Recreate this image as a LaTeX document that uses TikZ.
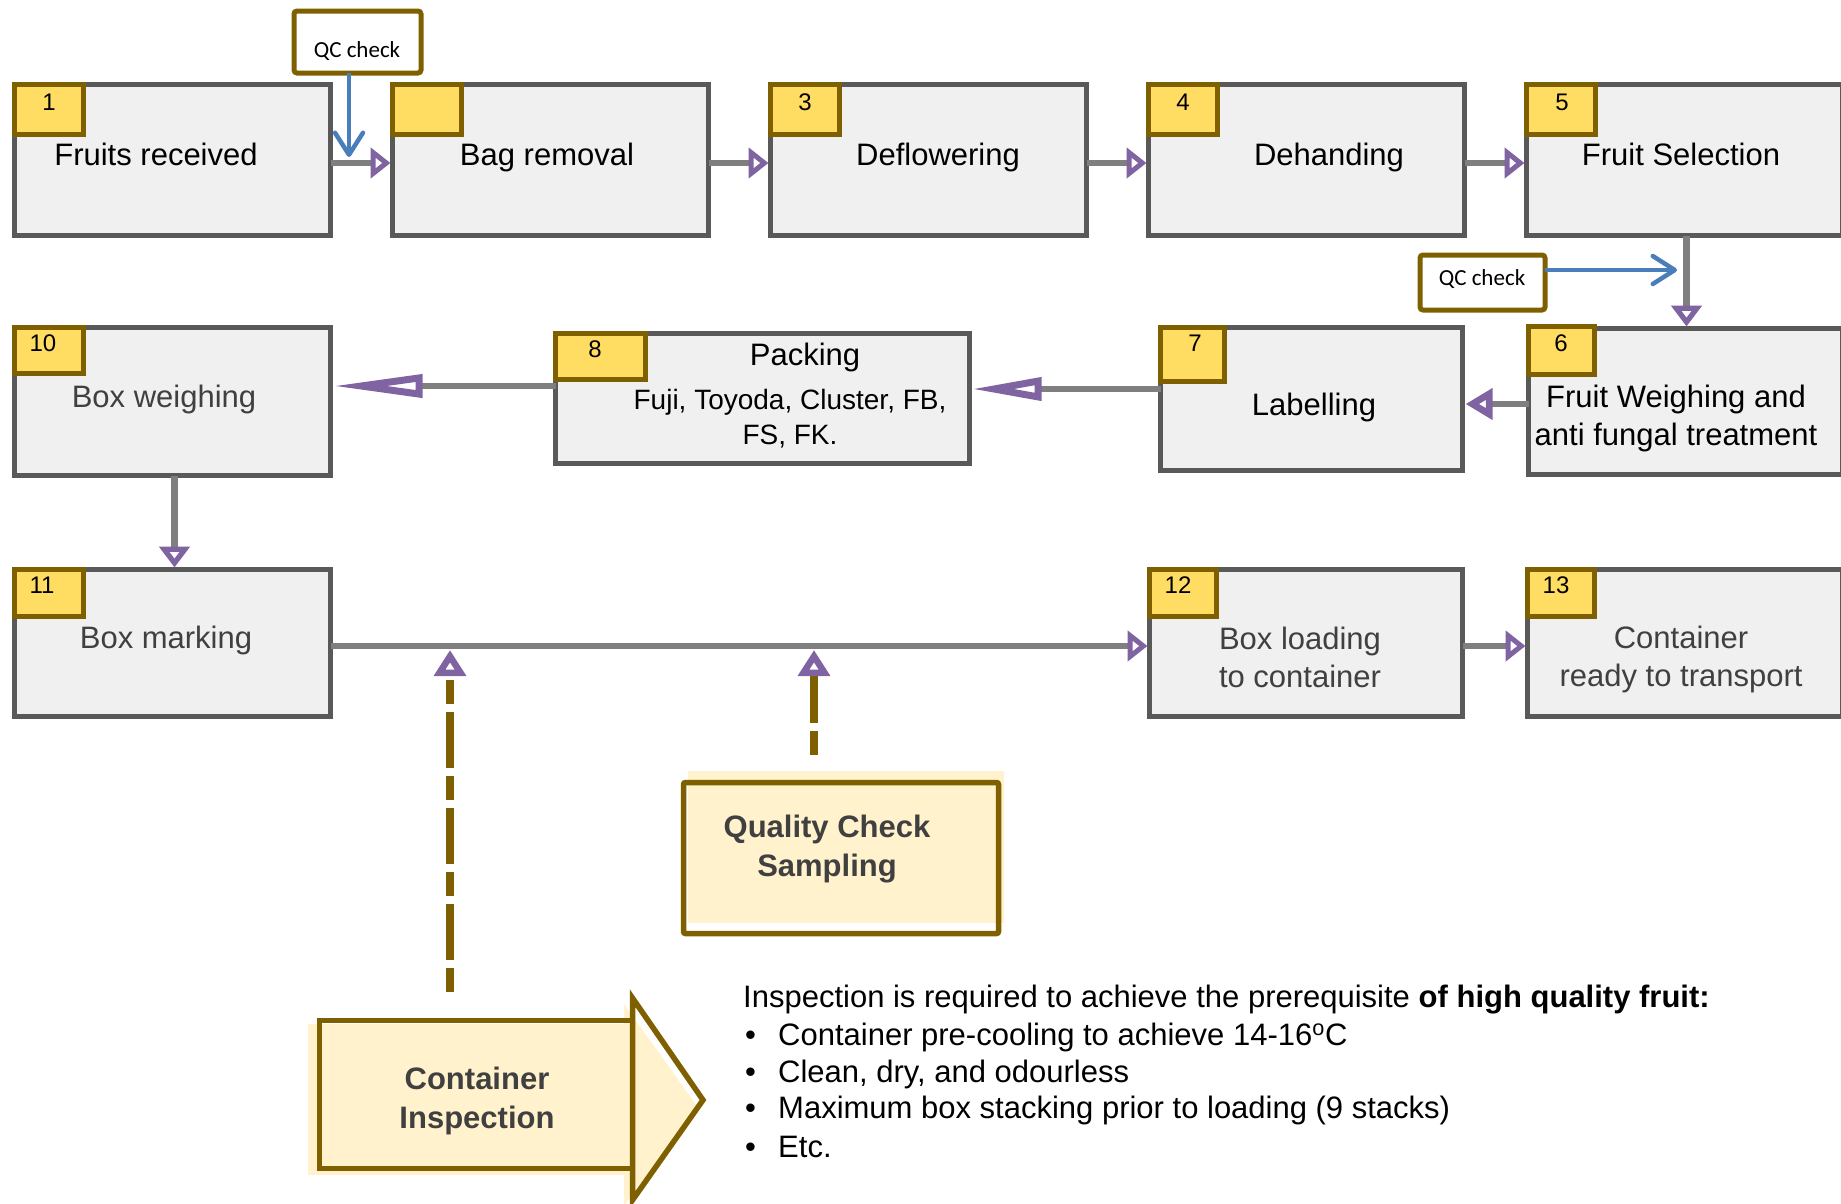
\documentclass[tikz,border=0pt]{standalone}
\usepackage{fontspec}
\setmainfont{Liberation Sans}
\newfontfamily\qcfont{Carlito}
\usetikzlibrary{arrows.meta}
\definecolor{boxfill}{HTML}{F0F0F0}
\definecolor{boxdraw}{HTML}{595959}
\definecolor{tagfill}{HTML}{FFDC62}
\definecolor{tagdraw}{HTML}{7F6000}
\definecolor{conngray}{HTML}{7F7F7F}
\definecolor{arrowpurple}{HTML}{8064A2}
\definecolor{qcblue}{HTML}{4A7EBB}
\definecolor{lightyellow}{HTML}{FFF2CC}
\definecolor{darktext}{HTML}{404040}
\tikzset{
  pbox/.style={draw=boxdraw, fill=boxfill, line width=5pt, anchor=north west, inner sep=0pt, outer sep=0pt},
  tagbox/.style={draw=tagdraw, fill=tagfill, line width=5pt, anchor=north west, inner sep=0pt, outer sep=0pt},
  qcbox/.style={draw=tagdraw, fill=white, line width=5pt, rounded corners=3pt, anchor=north west, inner sep=0pt, outer sep=0pt},
  bigbox/.style={draw=tagdraw, line width=5.5pt, anchor=north west, inner sep=0pt, outer sep=0pt},
  numtxt/.style={font=\fontsize{24}{28}\selectfont, inner sep=0pt, anchor=base},
  boxtxt/.style={font=\fontsize{31}{38}\selectfont, inner sep=0pt, align=center},
  linetxt/.style={boxtxt, anchor=base},
  greytxt/.style={boxtxt, text=darktext},
  greyline/.style={linetxt, text=darktext},
  subtxt/.style={font=\fontsize{28}{35}\selectfont, inner sep=0pt, align=center},
  qctxt/.style={font=\qcfont\fontsize{23}{27}\selectfont, inner sep=0pt, anchor=base},
  boldtxt/.style={font=\bfseries\fontsize{31}{39}\selectfont, text=darktext, inner sep=0pt, align=center},
  bodytxt/.style={font=\fontsize{31}{37}\selectfont, inner sep=0pt, anchor=base west},
  conn/.style={draw=conngray, line width=6.5pt},
  arrsmall/.style={-{Triangle[open,color=arrowpurple,length=20pt,width=30pt,line width=7.5pt]}},
  arrvert/.style={-{Triangle[open,color=arrowpurple,length=21pt,width=30pt,line width=6.5pt]}},
  arrmid/.style={-{Triangle[open,color=arrowpurple,length=27pt,width=30pt,line width=7pt]}},
  arrlongA/.style={-{Triangle[open,color=arrowpurple,length=70pt,width=22pt,line width=7pt]}},
  arrlongB/.style={-{Triangle[open,color=arrowpurple,length=90pt,width=22pt,line width=7pt]}},
  arrdash/.style={-{Triangle[open,color=arrowpurple,length=26pt,width=31pt,line width=6.5pt]}},
  qcarrow/.style={draw=qcblue, line width=4.5pt, -{Straight Barb[length=22pt,width=28pt,line width=4.5pt,round]}},
  dashconn/.style={draw=tagdraw, line width=8pt, dash pattern=on 24pt off 8pt on 56pt off 8pt}
}
\begin{document}
\begin{tikzpicture}[x=1pt,y=-1pt]
\useasboundingbox (0,0) rectangle (1841,1203);
\clip (0,0) rectangle (1841,1203);

% ---- process boxes ----
\node[pbox, minimum width=316pt, minimum height=151pt] (b1) at (14.5,84.5) {};
\node[pbox, minimum width=316pt, minimum height=151pt] (b2) at (392.5,84.5) {};
\node[pbox, minimum width=316pt, minimum height=151pt] (b3) at (770.5,84.5) {};
\node[pbox, minimum width=316pt, minimum height=151pt] (b4) at (1148.5,84.5) {};
\node[pbox, minimum width=316pt, minimum height=151pt] (b5) at (1526.5,84.5) {};
\node[pbox, minimum width=316pt, minimum height=148pt] (b10) at (14.5,327.5) {};
\node[pbox, minimum width=414pt, minimum height=130pt] (b8) at (555.5,333.5) {};
\node[pbox, minimum width=302pt, minimum height=143pt] (b7) at (1160.5,327.5) {};
\node[pbox, minimum width=314pt, minimum height=146pt] (b6) at (1528.5,328.5) {};
\node[pbox, minimum width=316pt, minimum height=147pt] (b11) at (14.5,569.5) {};
\node[pbox, minimum width=313pt, minimum height=147pt] (b12) at (1149.5,569.5) {};
\node[pbox, minimum width=315pt, minimum height=147pt] (b13) at (1527.5,569.5) {};

% ---- number tags ----
\node[tagbox, minimum width=69pt, minimum height=50pt] (g1) at (14.5,84.5) {};
\node[tagbox, minimum width=69pt, minimum height=50pt] (g2) at (392.5,84.5) {};
\node[tagbox, minimum width=69pt, minimum height=50pt] (g3) at (770.5,84.5) {};
\node[tagbox, minimum width=69pt, minimum height=50pt] (g4) at (1148.5,84.5) {};
\node[tagbox, minimum width=69pt, minimum height=50pt] (g5) at (1526.5,84.5) {};
\node[tagbox, minimum width=69pt, minimum height=46pt] (g10) at (14.5,327.5) {};
\node[tagbox, minimum width=90pt, minimum height=46pt] (g8) at (555.5,333.5) {};
\node[tagbox, minimum width=64pt, minimum height=54pt] (g7) at (1160.5,327.5) {};
\node[tagbox, minimum width=66pt, minimum height=48pt] (g6) at (1528.5,326.5) {};
\node[tagbox, minimum width=69pt, minimum height=47pt] (g11) at (14.5,569.5) {};
\node[tagbox, minimum width=67pt, minimum height=47pt] (g12) at (1149.5,569.5) {};
\node[tagbox, minimum width=67pt, minimum height=47pt] (g13) at (1527.5,569.5) {};

\node[numtxt] (n1) at (49,110) {1};
\node[numtxt] (n3) at (805,110) {3};
\node[numtxt] (n4) at (1183,110) {4};
\node[numtxt] (n5) at (1562,110) {5};
\node[numtxt] (n10) at (43,351) {10};
\node[numtxt] (n8) at (595,357) {8};
\node[numtxt] (n7) at (1195,351) {7};
\node[numtxt] (n6) at (1561,351) {6};
\node[numtxt] (n11) at (42,593) {11};
\node[numtxt] (n12) at (1178,593) {12};
\node[numtxt] (n13) at (1556,593) {13};

% ---- box texts ----
\node[linetxt] (l1) at (156,165) {Fruits received};
\node[linetxt] (l2) at (547,165) {Bag removal};
\node[linetxt] (l3) at (938,165) {Deflowering};
\node[linetxt] (l4) at (1329,165) {Dehanding};
\node[linetxt] (l5) at (1681,165) {Fruit Selection};
\node[greyline] (l10) at (164,407) {Box weighing};
\node[linetxt] (l8) at (805,365) {Packing};
\node[subtxt] (l8b) at (790,419) {Fuji, Toyoda, Cluster, FB,\\FS, FK.};
\node[linetxt] (l7) at (1314,415) {Labelling};
\node[boxtxt] (l6) at (1676,418) {Fruit Weighing and\\anti fungal treatment};
\node[greyline] (l11) at (166,648) {Box marking};
\node[greytxt] (l12) at (1300,657) {Box loading\\to container};
\node[greytxt] (l13) at (1681,659) {Container\\ready to transport};

% ---- QC check boxes ----
\node[qcbox, minimum width=127pt, minimum height=62pt] (q1) at (294,11) {};
\node[qctxt] (q1t) at (357,57) {QC check};
\node[qcbox, minimum width=125pt, minimum height=55pt] (q2) at (1420,255) {};
\node[qctxt] (q2t) at (1482,285) {QC check};
\coordinate (qa) at (349,157);
\coordinate (qb) at (1677,270);
\draw[qcarrow] (q1.south -| qa) -- (qa);
\draw[qcarrow] (q2.east |- qb) -- (qb);

% ---- Quality Check Sampling ----
\fill[lightyellow] (688,771) rectangle (1004,923);
\node[bigbox, rounded corners=2pt, minimum width=315pt, minimum height=151pt] (qcs) at (683.5,782.5) {};
\node[boldtxt] (qcst) at (827,849) {Quality Check\\Sampling};

% ---- Container Inspection ----
\fill[lightyellow] (308,1024) rectangle (625,1175);
\fill[lightyellow] (624,1004) -- (697,1106) -- (624,1206) -- cycle;
\node[bigbox, minimum width=313pt, minimum height=148pt] (ci) at (319.5,1020.5) {};
\draw[draw=tagdraw, line width=5.5pt, line join=miter] (632.5,998) -- (703,1100) -- (632.5,1200) -- cycle;
\node[boldtxt] (cit) at (477,1101) {Container\\Inspection};

% ---- connectors ----
\coordinate (r2a) at (0,404);
\coordinate (r2b) at (0,389);
\coordinate (r2c) at (0,386);
\coordinate (r3) at (0,646);
\coordinate (r3b) at (0,650);
\draw[conn, arrsmall] ([yshift=-3pt]b1.east) -- ([yshift=-3pt,xshift=-2pt]b2.west);
\draw[conn, arrsmall] ([yshift=-3pt]b2.east) -- ([yshift=-3pt,xshift=-2pt]b3.west);
\draw[conn, arrsmall] ([yshift=-3pt]b3.east) -- ([yshift=-3pt,xshift=-2pt]b4.west);
\draw[conn, arrsmall] ([yshift=-3pt]b4.east) -- ([yshift=-3pt,xshift=-2pt]b5.west);
\draw[conn, arrvert] ([xshift=2pt]b5.south) -- ([xshift=2pt,yshift=2pt]b5.south |- b6.north);
\draw[conn, arrmid] (b6.west |- r2a) -- ([xshift=3pt]b7.east |- r2a);
\draw[conn, arrlongA] (b7.west |- r2b) -- ([xshift=2pt]b8.east |- r2b);
\draw[conn, arrlongB] (b8.west |- r2c) -- ([xshift=2pt]b10.east |- r2c);
\draw[conn, arrvert] ([xshift=2pt]b10.south) -- ([xshift=2pt,yshift=2pt]b11.north);
\draw[conn, arrsmall] (b11.east |- r3) -- ([xshift=-2pt]b12.west |- r3);
\draw[conn, arrsmall] (b12.east |- r3) -- ([xshift=-2pt]b13.west |- r3);

\coordinate (d1) at (450,992);
\coordinate (d2) at (814,755);
\draw[dashconn, arrdash] (d1) -- (d1 |- r3b);
\draw[dashconn, arrdash] (d2) -- (d2 |- r3b);

% ---- bottom text ----
\node[bodytxt] (t0) at (743,1007) {Inspection is required to achieve the prerequisite \textbf{of high quality fruit:}};
\node[bodytxt] (u1) at (745,1045) {•};
\node[bodytxt] (u2) at (745,1082) {•};
\node[bodytxt] (u3) at (745,1118) {•};
\node[bodytxt] (u4) at (745,1157) {•};
\node[bodytxt] (t1) at (778,1045) {Container pre-cooling to achieve 14-16\textsuperscript{o}C};
\node[bodytxt] (t2) at (778,1082) {Clean, dry, and odourless};
\node[bodytxt] (t3) at (778,1118) {Maximum box stacking prior to loading (9 stacks)};
\node[bodytxt] (t4) at (778,1157) {Etc.};
\end{tikzpicture}
\end{document}
